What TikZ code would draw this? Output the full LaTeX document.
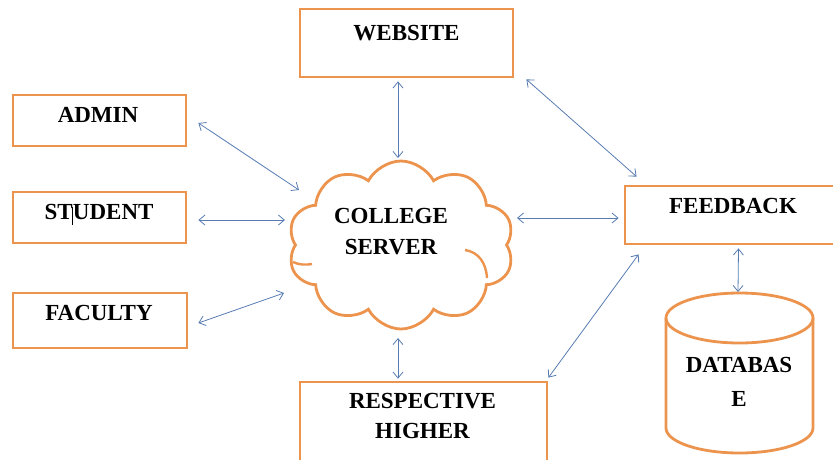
\documentclass[tikz,border=0pt]{standalone}
\usepackage{fontspec}
\setmainfont{Liberation Serif}
\usetikzlibrary{shapes.symbols,arrows.meta,calc}
\definecolor{boxorange}{RGB}{236,148,78}
\definecolor{arrowblue}{RGB}{88,124,178}
\begin{document}
\begin{tikzpicture}[x=1pt,y=-1pt,
  boxnode/.style={draw=boxorange,line width=2.8pt,fill=white,inner sep=0pt},
  lbl/.style={font=\fontsize{23}{30.5}\selectfont\bfseries,align=center,inner sep=0pt},
  link/.style={draw=arrowblue,line width=0.8pt,
    {Straight Barb[length=6pt,width=10pt]}-{Straight Barb[length=6pt,width=10pt]}},
  dbline/.style={draw=boxorange,line width=2.8pt}]
\useasboundingbox (0,0) rectangle (833,459);
% boxes
\node[boxnode,minimum width=213pt,minimum height=68pt] (web) at (406.5,43) {};
\node[boxnode,minimum width=173pt,minimum height=51pt] (admin) at (99.5,120.5) {};
\node[boxnode,minimum width=173pt,minimum height=51pt] (student) at (99.5,217.5) {};
\node[boxnode,minimum width=174pt,minimum height=55pt] (faculty) at (100,320.5) {};
\node[boxnode,minimum width=220pt,minimum height=58pt] (fb) at (735,215) {};
\node[boxnode,minimum width=247pt,minimum height=88pt] (resp) at (423.5,426) {};
% cloud
\node[cloud,cloud puffs=10,cloud puff arc=125,aspect=1.34,draw=boxorange,line width=2.8pt,
  minimum width=226pt,minimum height=168pt,inner sep=0pt] (cloud) at (401,245) {};
\draw[dbline,line width=2.4pt] (465,250) .. controls (478,252) and (486,262) .. (487,278);
\draw[dbline,line width=2.4pt] (293,262) .. controls (299,265) and (306,265) .. (312,264);
% database
\draw[dbline] (666,318) -- (666,428) arc[start angle=180,end angle=0,x radius=73.5,y radius=25] -- (813,318);
\draw[dbline] (739.5,318) ellipse [x radius=73.5,y radius=25];
\coordinate (dbtop) at (739.5,293);
% labels
\node[lbl] (webt) at (406.5,33.5) {WEBSITE};
\node[lbl] (admint) at (98,114.5) {ADMIN};
\node[lbl] (studentt) at (99,211.5) {ST\hspace{-1pt}\smash{\rule[-6pt]{1.8pt}{18pt}}\hspace{-0.5pt}UDENT};
\node[lbl] (facultyt) at (99,312.5) {FACULTY};
\node[lbl] (fbt) at (733,205.5) {FEEDBACK};
\node[lbl] (cloudt) at (391,231.5) {COLLEGE\\SERVER};
\node[lbl] (respt) at (422.5,416) {RESPECTIVE\\HIGHER};
\node[lbl] (dbt) at (739,382) {DATABAS\\[4pt]E};
% connectors
\draw[link] ($(web.south)+(-8.5,3)$) -- ($(cloud.center)+(-3,-87)$);
\draw[link] ($(web.south east)+(12,1)$) -- ($(fb.north west)+(13,-8)$);
\draw[link] ($(admin.east)+(11,2.5)$) -- ($(cloud.center)+(-102,-55)$);
\draw[link] ($(student.east)+(11,2.5)$) -- ($(cloud.center)+(-116,-25)$);
\draw[link] ($(faculty.east)+(10,2.5)$) -- ($(cloud.center)+(-117,48)$);
\draw[link] ($(cloud.center)+(116,-27)$) -- ($(fb.west)+(-5,3)$);
\draw[link] ($(cloud.center)+(-3,93)$) -- ($(resp.north)+(-25.5,-2)$);
\draw[link] ($(resp.north east)+(0,-3)$) -- ($(fb.south west)+(15,9)$);
\draw[link] ($(fb.south)+(3.5,3)$) -- ($(dbtop)+(-1.5,-1)$);
\end{tikzpicture}
\end{document}
